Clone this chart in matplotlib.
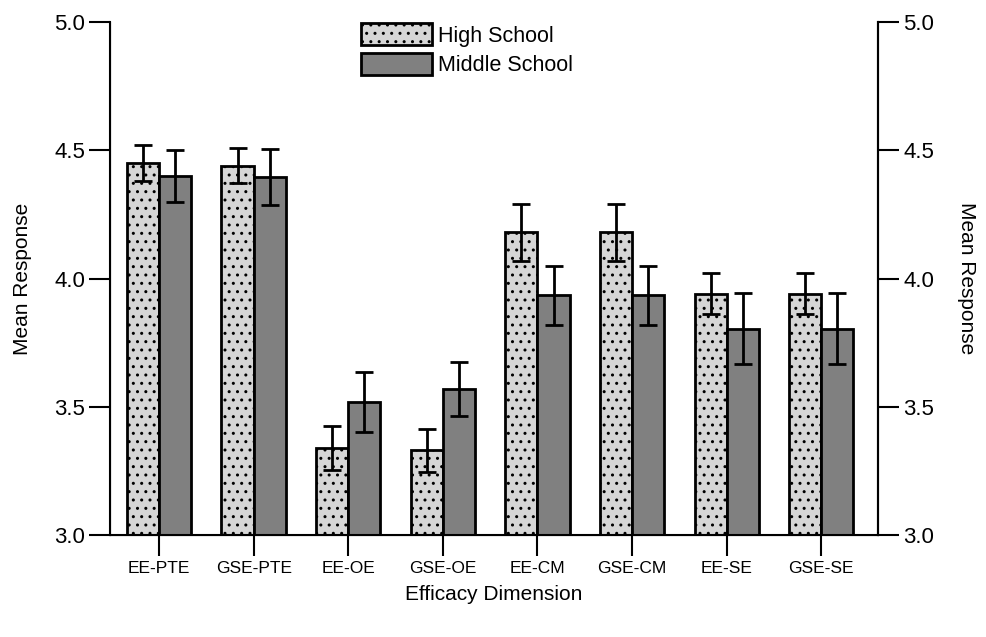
import matplotlib
matplotlib.use("Agg")
import matplotlib.pyplot as plt
import numpy as np

plt.rcParams['font.family'] = ['Liberation Sans Narrow', 'Liberation Sans', 'DejaVu Sans']
plt.rcParams['hatch.color'] = '#5a5a5a'
plt.rcParams['hatch.linewidth'] = 1.0

categories = ["EE-PTE", "GSE-PTE", "EE-OE", "GSE-OE", "EE-CM", "GSE-CM", "EE-SE", "GSE-SE"]
high_school = [4.45, 4.44, 3.34, 3.33, 4.18, 4.18, 3.94, 3.94]
high_school_err = [0.07, 0.067, 0.086, 0.085, 0.11, 0.11, 0.08, 0.08]
middle_school = [4.40, 4.395, 3.52, 3.57, 3.935, 3.935, 3.805, 3.805]
middle_school_err = [0.10, 0.11, 0.117, 0.105, 0.115, 0.115, 0.14, 0.14]
y_ticks = [3.0, 3.5, 4.0, 4.5, 5.0]

fig = plt.figure(figsize=(9.86, 6.37), dpi=100)
ax = fig.add_axes([0.1116, 0.160, 0.7789, 0.8055])

x = np.arange(len(categories))
w = 0.34
base = 3.0
err_kw = dict(ecolor='black', elinewidth=2, capsize=6.5, capthick=2, zorder=3)
ax.bar(x - w / 2, np.array(high_school) - base, w, bottom=base,
       yerr=high_school_err, color='#d6d6d6', edgecolor='black', linewidth=2,
       hatch='..', label='High School', error_kw=err_kw, zorder=2)
ax.bar(x + w / 2, np.array(middle_school) - base, w, bottom=base,
       yerr=middle_school_err, color='#808080', edgecolor='black', linewidth=2,
       label='Middle School', error_kw=err_kw, zorder=2)

ax.set_xlim(-0.518, 7.60)
ax.set_ylim(3.0, 5.0)
ax.set_yticks(y_ticks)
ax.set_yticklabels([f"{v:.1f}" for v in y_ticks], fontsize=16)
ax.set_xticks(x)
ax.set_xticklabels(categories, fontsize=12.5)
ax.tick_params(axis='x', length=15, width=1.5, pad=4)
ax.tick_params(axis='y', length=15, width=1.5, pad=3)

ax.spines['top'].set_visible(False)
for side in ('left', 'right', 'bottom'):
    ax.spines[side].set_linewidth(1.5)

ax.set_ylabel("Mean Response", fontsize=15, labelpad=16)
ax.set_xlabel("Efficacy Dimension", fontsize=15, labelpad=6)

ax2 = ax.twinx()
ax2.set_ylim(ax.get_ylim())
ax2.set_yticks(y_ticks)
ax2.set_yticklabels([f"{v:.1f}" for v in y_ticks], fontsize=16)
ax2.tick_params(axis='y', length=15, width=1.5, pad=3)
ax2.spines['top'].set_visible(False)
ax2.spines['right'].set_linewidth(1.5)
ax2.set_ylabel("Mean Response", fontsize=15, rotation=270, labelpad=30)

leg = ax.legend(loc='upper center', bbox_to_anchor=(0.465, 1.035), frameon=False,
                fontsize=15.5, handlelength=3.3, handleheight=1.2,
                handletextpad=0.3, labelspacing=0.3)

fig.savefig("out.png", dpi=100)
